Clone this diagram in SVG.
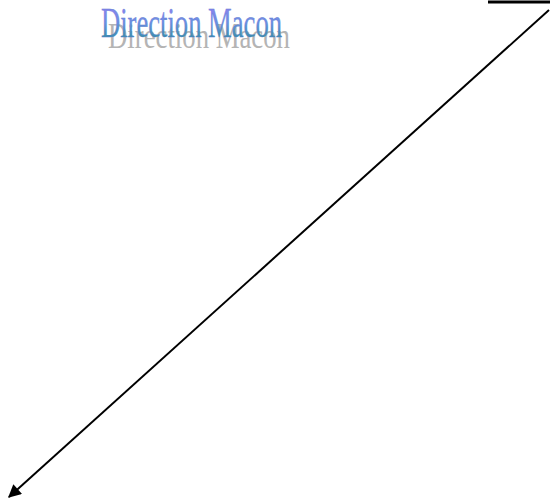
<svg xmlns="http://www.w3.org/2000/svg" width="550" height="502" viewBox="0 0 550 502">
<defs>
<linearGradient id="g" x1="0" y1="0" x2="0" y2="1">
<stop offset="0" stop-color="#9a7cf4"/>
<stop offset="0.5" stop-color="#6a90e0"/>
<stop offset="1" stop-color="#1f8f8a"/>
</linearGradient>
<marker id="arr" viewBox="0 0 10 10" refX="9" refY="5" markerWidth="16" markerHeight="13" markerUnits="userSpaceOnUse" orient="auto">
<path d="M0,0 L10,5 L0,10 z" fill="#000"/>
</marker>
<style>
.wa{font-family:"Liberation Serif",serif}
</style>
</defs>
<g id="title">
<text class="wa" x="108" y="48" font-size="36" textLength="182" lengthAdjust="spacingAndGlyphs" fill="#b4b4b4">Direction Macon</text>
<text class="wa" x="101" y="37" font-size="42" textLength="181" lengthAdjust="spacingAndGlyphs" fill="url(#g)" stroke="#5a7ad0" stroke-width="0.3">Direction Macon</text>
</g>
<g id="connectors" fill="none" stroke="#000" stroke-width="2">
<line x1="488" y1="2" x2="550" y2="2" stroke-width="3"/>
<line x1="549" y1="10" x2="9" y2="497" marker-end="url(#arr)"/>
</g>
</svg>
